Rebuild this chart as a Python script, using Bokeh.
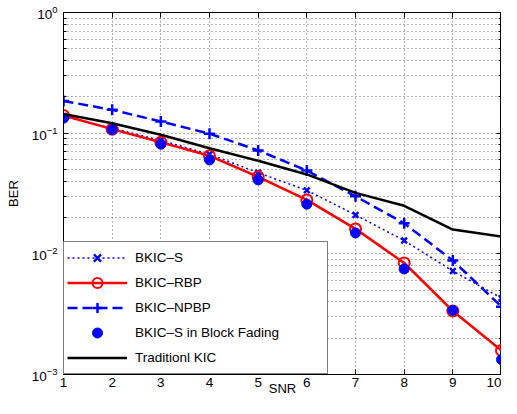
from bokeh.plotting import figure
from bokeh.models import (FixedTicker, LogAxis, LinearAxis, Legend, LegendItem,
                          CustomJSTickFormatter, Range1d)
from bokeh.embed import file_html
from bokeh.resources import INLINE

# ---- data ----
snr = [1, 2, 3, 4, 5, 6, 7, 8, 9, 10]
ber_s = [0.138, 0.110, 0.087, 0.067, 0.047, 0.0336, 0.021, 0.0129, 0.0072, 0.0043]
ber_rbp = [0.140, 0.108, 0.084, 0.065, 0.0435, 0.028, 0.0161, 0.0084, 0.00336, 0.00158]
ber_npbp = [0.185, 0.156, 0.125, 0.099, 0.072, 0.049, 0.030, 0.0179, 0.0088, 0.00365]
ber_bf = [0.133, 0.107, 0.081, 0.060, 0.041, 0.0258, 0.0149, 0.0075, 0.0034, 0.00133]
ber_kic = [0.144, 0.121, 0.097, 0.075, 0.059, 0.0455, 0.032, 0.025, 0.0159, 0.0139]

x_ticks = snr
y_major = [1e-3, 1e-2, 1e-1, 1.0]
y_minor = [m * 10.0 ** e for e in (-3, -2, -1) for m in range(2, 10)]

labels = ["BKIC\u2013S", "BKIC\u2013RBP", "BKIC\u2013NPBP",
          "BKIC\u2013S in Block Fading", "Traditionl KIC"]

FONT = "Liberation Sans"
BLUE = "#0000ff"
RED = "#ff0000"

p = figure(width=501, height=398, y_axis_type="log",
           x_range=Range1d(1, 10), y_range=Range1d(1e-3, 1),
           output_backend="svg", toolbar_location=None,
           min_border_left=63, min_border_top=12, min_border_right=0,
           min_border_bottom=0, background_fill_color="white",
           border_fill_color="white")

p.outline_line_color = "black"
p.outline_line_width = 1

xt = FixedTicker(ticks=x_ticks, minor_ticks=[])
yt = FixedTicker(ticks=y_major, minor_ticks=y_minor)

# axes
for ax in (p.xaxis[0], p.yaxis[0]):
    ax.axis_line_color = "black"
    ax.major_tick_in = 5
    ax.major_tick_out = 0
    ax.minor_tick_in = 3
    ax.minor_tick_out = 0
    ax.major_tick_line_color = "black"
    ax.minor_tick_line_color = "black"
    ax.major_label_text_font = FONT
    ax.major_label_text_font_size = "13.5px"
    ax.major_label_text_color = "black"
    ax.axis_label_text_font = FONT
    ax.axis_label_text_font_size = "13px"
    ax.axis_label_text_font_style = "normal"
    ax.axis_label_text_color = "black"

p.xaxis[0].ticker = xt
p.xaxis[0].major_label_standoff = 3
p.xaxis[0].axis_label = "SNR"
p.xaxis[0].axis_label_standoff = -9
p.yaxis[0].ticker = yt
p.yaxis[0].major_label_standoff = 6
p.yaxis[0].axis_label = "BER"
p.yaxis[0].axis_label_standoff = 8

blank = CustomJSTickFormatter(code="return ''")
top_ax = LinearAxis(ticker=xt, formatter=blank, major_tick_in=5, major_tick_out=0,
                    minor_tick_in=0, minor_tick_out=0, major_label_standoff=0,
                    major_label_text_font_size="0px", axis_line_color="black")
right_ax = LogAxis(ticker=yt, formatter=blank, major_tick_in=5, major_tick_out=0,
                   minor_tick_in=3, minor_tick_out=0, major_label_standoff=0,
                   major_label_text_font_size="0px", axis_line_color="black")
p.add_layout(top_ax, "above")
p.add_layout(right_ax, "right")

# grids
for g, t in ((p.xgrid[0], xt), (p.ygrid[0], yt)):
    g.ticker = t
    g.grid_line_color = "black"
    g.grid_line_alpha = 0.6
    g.grid_line_dash = "1 3"
    g.grid_line_width = 1
p.ygrid[0].minor_grid_line_color = "black"
p.ygrid[0].minor_grid_line_alpha = 0.6
p.ygrid[0].minor_grid_line_dash = "1 3"
p.xgrid[0].minor_grid_line_color = None

# series
l_s = p.line(snr, ber_s, line_color=BLUE, line_width=1.5, line_dash="2 3")
m_s = p.scatter(snr, ber_s, marker="x", size=8, line_color=BLUE, line_width=2.4)

l_r = p.line(snr, ber_rbp, line_color=RED, line_width=2.5)
m_r = p.scatter(snr, ber_rbp, marker="circle", size=11, line_color=RED,
                fill_color=None, line_width=2)

l_n = p.line(snr, ber_npbp, line_color=BLUE, line_width=2.5, line_dash="10 5")
m_n = p.scatter(snr, ber_npbp, marker="cross", size=11, line_color=BLUE, line_width=2.5)

m_b = p.scatter(snr, ber_bf, marker="circle", size=10, line_color=BLUE,
                fill_color=BLUE)

l_k = p.line(snr, ber_kic, line_color="black", line_width=2.5)

legend = Legend(items=[
    LegendItem(label=labels[0], renderers=[l_s, m_s]),
    LegendItem(label=labels[1], renderers=[l_r, m_r]),
    LegendItem(label=labels[2], renderers=[l_n, m_n]),
    LegendItem(label=labels[3], renderers=[m_b]),
    LegendItem(label=labels[4], renderers=[l_k]),
], location="bottom_left")
legend.margin = 0
legend.padding = 3
legend.spacing = 0
legend.label_height = 25
legend.glyph_height = 25
legend.glyph_width = 60
legend.label_standoff = 8
legend.label_width = 189
legend.label_text_font = FONT
legend.label_text_font_size = "13.5px"
legend.label_text_color = "black"
legend.border_line_color = "black"
legend.border_line_width = 1.5
legend.background_fill_color = "white"
legend.background_fill_alpha = 1.0
p.add_layout(legend, "center")

open("out.html", "w").write(file_html(p, INLINE))
